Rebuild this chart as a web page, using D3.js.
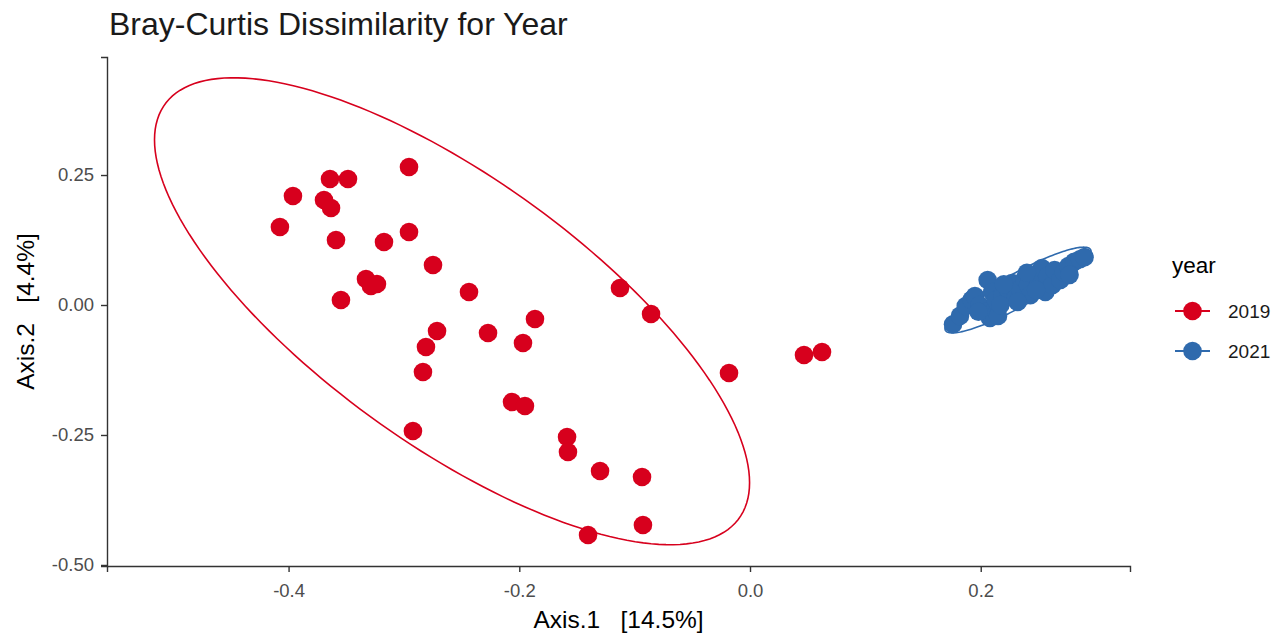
<!DOCTYPE html>
<html>
<head>
<meta charset="utf-8">
<script src="https://cdn.jsdelivr.net/npm/d3@7"></script>
<style>
  body { margin: 0; background: #fff; }
  text { font-family: "Liberation Sans", Arial, Helvetica, sans-serif; }
  .tick line, .domain { stroke: #333; stroke-width: 1.4; }
</style>
</head>
<body>
<div id="chart"></div>
<script>
// ordination scores
const x2019 = [-0.4075,-0.3962,-0.3641,-0.3485,-0.2956,-0.3693,-0.3632,-0.3589,-0.3173,-0.2956,
  -0.3329,-0.3286,-0.3234,-0.3546,-0.2748,-0.2436,-0.2271,-0.2713,-0.2809,-0.1968,
  -0.1864,-0.2922,-0.2835,-0.0858,-0.0182,-0.2063,-0.1951,-0.1586,-0.1578,-0.1300,
  -0.0936,-0.0928,-0.1404,-0.1127,0.0468,0.0624]
const y2019 = [0.150,0.2096,0.2423,0.2423,0.2654,0.2019,0.1865,0.125,0.1212,0.1404,
  0.050,0.0365,0.0404,0.0096,0.0769,0.025,-0.0538,-0.050,-0.0808,-0.0731,
  -0.0269,-0.2423,-0.1288,-0.0173,-0.1308,-0.1865,-0.1942,-0.2538,-0.2827,-0.3192,
  -0.3308,-0.4231,-0.4423,0.0327,-0.0962,-0.0904]

const x2021 = [0.176,0.182,0.187,0.192,0.195,0.199,0.204,0.208,0.215,0.206,
  0.210,0.213,0.219,0.224,0.227,0.230,0.234,0.238,0.241,0.243,
  0.246,0.250,0.253,0.256,0.258,0.262,0.264,0.269,0.272,0.276,
  0.281,0.286,0.290,0.277,0.217,0.232,0.248,0.198,0.220,0.240]
const y2021 = [-0.037,-0.021,-0.002,0.010,0.017,0.000,-0.013,-0.025,-0.021,0.048,
  0.025,0.010,0.019,0.029,0.042,0.013,0.031,0.050,0.038,0.019,
  0.058,0.042,0.071,0.025,0.056,0.038,0.067,0.048,0.063,0.075,
  0.083,0.088,0.092,0.058,0.000,0.006,0.029,-0.013,0.040,0.062]

// confidence ellipses: centre and shape matrix [sxx, syy, sxy]
const ellipseCentre = {'2019': [-0.2583, -0.0120], '2021': [0.2323, 0.0288]}
const ellipseShape = {'2019': [0.06652, 0.20163, -0.08503], '2021': [0.004006, 0.006798, 0.004696]}

const years = ['2019', '2021']
const colours = ['#d7001d', '#2f6aad']
const xTicks = [-0.4, -0.2, 0.0, 0.2]
const xTickLabels = ['-0.4', '-0.2', '0.0', '0.2']
const yTicks = [-0.5, -0.25, 0, 0.25]
const yTickLabels = ['-0.50', '-0.25', '0.00', '0.25']

const width = 1287
const height = 634
const margin = {left:107, top:57, right:157, bottom:68}

const svg = d3.select('#chart')
.append('svg')
.attr('width', width)
.attr('height', height)

const xScale = d3.scaleLinear()
.domain([-0.5574, 0.3294])
.range([margin.left, width - margin.right])

const yScale = d3.scaleLinear()
.domain([-0.502, 0.477])
.range([height - margin.bottom, margin.top])

const colour = d3.scaleOrdinal().domain(years).range(colours)

const pts = {
	'2019': x2019.map((x, i) => ({x, y:y2019[i]})),
	'2021': x2021.map((x, i) => ({x, y:y2021[i]}))
}

// ellipses first, points on top
const line = d3.line()
.curve(d3.curveLinearClosed)
.x(d => xScale(d[0]))
.y(d => yScale(d[1]))

years.forEach(yr => {
	const [cx, cy] = ellipseCentre[yr]
	const [sxx, syy, sxy] = ellipseShape[yr]
	const a = Math.sqrt(sxx)
	const b = sxy / a
	const c = Math.sqrt(syy - b * b)
	const ring = d3.range(0, 2 * Math.PI, Math.PI / 90)
	.map(t => [cx + a * Math.cos(t), cy + b * Math.cos(t) + c * Math.sin(t)])

	svg.append('path')
	.attr('d', line(ring))
	.attr('fill', 'none')
	.attr('stroke', colour(yr))
	.attr('stroke-width', 1.6)
})

years.forEach(yr => {
	svg.append('g')
	.selectAll('circle')
	.data(pts[yr])
	.enter()
	.append('circle')
	.attr('cx', d => xScale(d.x))
	.attr('cy', d => yScale(d.y))
	.attr('r', 9.3)
	.attr('fill', colour(yr))
})

const xAxis = svg.append('g')
.attr('transform', `translate(0,${height - margin.bottom})`)
.call(
	d3.axisBottom(xScale)
	.tickValues(xTicks)
	.tickSizeOuter(0)
	.tickSize(6)
	.tickPadding(12)
	.tickFormat((d, i) => xTickLabels[i])
)

const yAxis = svg.append('g')
.attr('transform', `translate(${margin.left},0)`)
.call(
	d3.axisLeft(yScale)
	.tickValues(yTicks)
	.tickSizeOuter(0)
	.tickSize(6)
	.tickPadding(7)
	.tickFormat((d, i) => yTickLabels[i])
)

;[xAxis, yAxis].forEach(g => {
	g.attr('font-size', 18.5).attr('font-family', null)
	g.selectAll('text').attr('fill', '#4d4d4d')
})

svg.selectAll('.domain').attr('stroke-width', 1.6)

svg.append('text')
.attr('x', margin.left + 2)
.attr('y', 35)
.attr('font-size', 32)
.attr('fill', '#1a1a1a')
.text('Bray-Curtis Dissimilarity for Year')

svg.append('text')
.attr('x', (margin.left + width - margin.right) / 2)
.attr('y', 628)
.attr('text-anchor', 'middle')
.attr('font-size', 24.5)
.style('white-space', 'pre')
.text('Axis.1   [14.5%]')

svg.append('text')
.attr('transform', `translate(34,${(margin.top + height - margin.bottom) / 2}) rotate(-90)`)
.attr('text-anchor', 'middle')
.attr('font-size', 24.5)
.style('white-space', 'pre')
.text('Axis.2   [4.4%]')

// legend
const legend = svg.append('g').attr('transform', 'translate(1172,0)')

legend.append('text')
.attr('x', 0)
.attr('y', 273)
.attr('font-size', 22.5)
.text('year')

const keys = legend.selectAll('g.key')
.data(years)
.enter()
.append('g')
.attr('class', 'key')
.attr('transform', (d, i) => `translate(0,${311 + i * 40})`)

keys.append('line')
.attr('x1', 3).attr('x2', 38)
.attr('stroke', d => colour(d))
.attr('stroke-width', 2)

keys.append('circle')
.attr('cx', 20.5)
.attr('r', 9.3)
.attr('fill', d => colour(d))

keys.append('text')
.attr('x', 56)
.attr('dy', '0.35em')
.attr('font-size', 19)
.attr('fill', '#1a1a1a')
.text(d => d)
</script>
</body>
</html>
